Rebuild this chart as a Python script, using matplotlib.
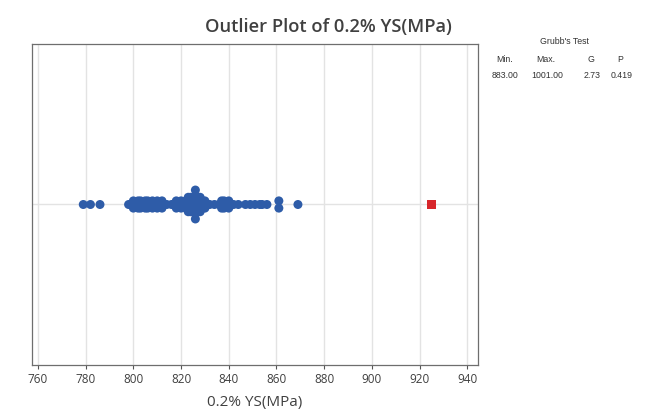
import matplotlib
matplotlib.use("Agg")
import matplotlib.pyplot as plt
import numpy as np
from collections import Counter

values = [779, 782, 786,
          798, 799, 800, 800, 801, 802, 802, 803, 803, 804, 805, 805, 806, 806, 807, 808, 808, 809, 810, 810, 812, 812,
          814, 816, 817, 818, 818, 819, 820, 820, 821, 822, 822, 823, 823, 823, 824, 824, 824, 825, 825, 825,
          826, 826, 826, 826, 826, 827, 827, 827, 828, 828, 828, 829, 829, 830, 830, 831, 832,
          834, 836, 837, 837, 838, 838, 839, 840, 840, 841, 842, 844,
          847, 849, 851, 853, 854, 856, 861, 861, 869]
outliers = [925]
xticks = list(range(760, 941, 20))
headers = ["Min.", "Max.", "G", "P"]
stats = ["883.00", "1001.00", "2.73", "0.419"]

plt.rcParams['font.family'] = ['Open Sans', 'DejaVu Sans']
fig = plt.figure(figsize=(6.45, 4.18), dpi=100)
ax = fig.add_axes([32/645, 1-365/418, (478-32)/645, (365-44)/418])

step = 0.045
cnt = Counter(values)
xs, ys = [], []
for v, n in sorted(cnt.items()):
    for i in range(n):
        xs.append(v)
        ys.append((i - (n - 1) / 2) * step)

ax.axhline(0, color='#e3e3e3', lw=1, zorder=0)
for t in xticks:
    ax.axvline(t, color='#e3e3e3', lw=1, zorder=0)
ax.scatter(xs, ys, s=42, color='#2E5CA8', edgecolors='none', zorder=3)
ax.scatter(outliers, [0]*len(outliers), s=36, marker='s', color='#D7262B', edgecolors='none', zorder=3)

ax.set_xlim(757.5, 944.5)
ax.set_ylim(-1, 1)
ax.set_yticks([])
ax.set_xticks(xticks)
ax.tick_params(axis='x', labelsize=8.5, colors='#555555', labelcolor='#404040', length=3, width=0.8, pad=3)
for s in ax.spines.values():
    s.set_color('#6e6e6e')
    s.set_linewidth(0.9)
ax.set_xlabel("0.2% YS(MPa)", fontsize=11, color='#404040', labelpad=6)

fig.text(328/645, 1-27/418, "Outlier Plot of 0.2% YS(MPa)", ha='center', va='center',
         fontsize=13.2, color='#404040', fontweight='semibold')

tf = ['Liberation Sans', 'DejaVu Sans']
fig.text(564/645, 1-42/418, "Grubb's Test", ha='center', va='center', fontsize=6.3, color='#333333', family=tf)
hx = [505, 546, 591, 620]
vx = [505, 547, 592, 622]
for h, x in zip(headers, hx):
    fig.text(x/645, 1-60/418, h, ha='center', va='center', fontsize=6.3, color='#333333', family=tf)
for v, x in zip(stats, vx):
    fig.text(x/645, 1-76/418, v, ha='center', va='center', fontsize=6.3, color='#333333', family=tf)

fig.savefig("out.png", dpi=100)
